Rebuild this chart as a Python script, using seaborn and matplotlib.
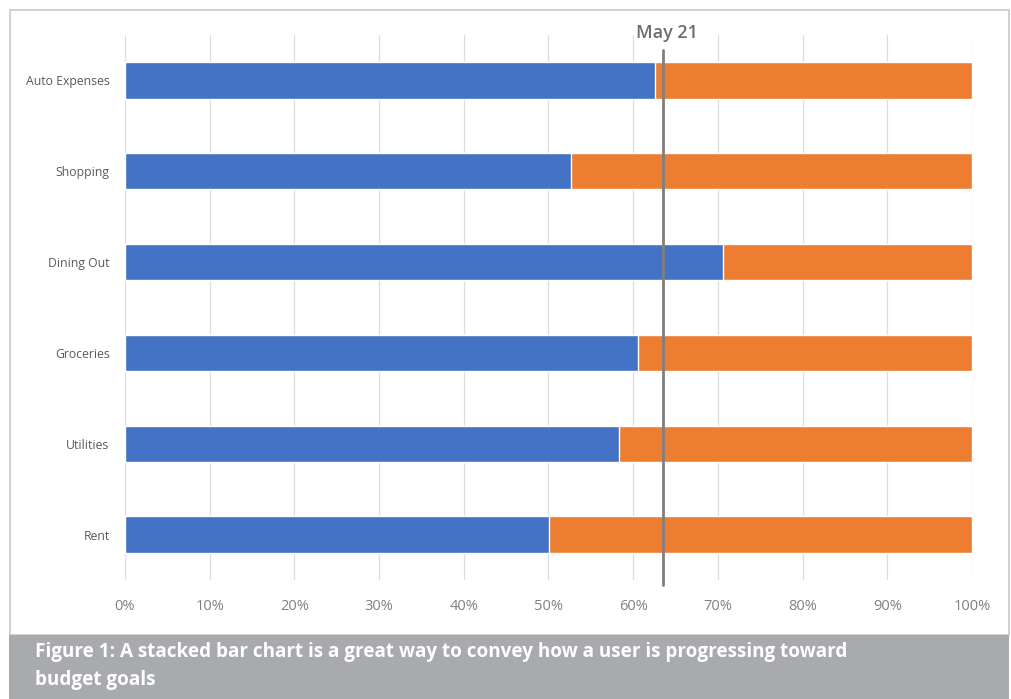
import matplotlib
matplotlib.use("Agg")
import matplotlib.pyplot as plt
import seaborn as sns
import pandas as pd
from matplotlib.patches import Rectangle

categories = ["Auto Expenses", "Shopping", "Dining Out", "Groceries", "Utilities", "Rent"]
spent = [62.6, 52.7, 70.6, 60.6, 58.3, 50.1]
remaining = [100 - s for s in spent]
marker_value = 63.5
marker_label = "May 21"
x_ticks = list(range(0, 101, 10))
x_tick_labels = [f"{t}%" for t in x_ticks]
caption = ("Figure 1: A stacked bar chart is a great way to convey how a user is progressing toward\n"
           "budget goals")

sns.set_theme(style="white")
plt.rcParams['font.family'] = ['Open Sans', 'DejaVu Sans']

df = pd.DataFrame({"category": categories, "spent": spent, "remaining": remaining})
df["total"] = df["spent"] + df["remaining"]

W, H = 1012, 699
fig = plt.figure(figsize=(W / 100, H / 100), dpi=100)
# frame
fig.patches.append(Rectangle((10 / W, 1 - 635 / H), 999 / W, 625 / H, transform=fig.transFigure,
                             facecolor="white", edgecolor="#c8c8c8", linewidth=1.2, zorder=-5))
# caption band
fig.patches.append(Rectangle((9 / W, 0), 1000 / W, 1 - 635 / H, transform=fig.transFigure,
                             facecolor="#a8aaad", edgecolor="none", zorder=-4))

ax = fig.add_axes([125 / W, 1 - 580 / H, 847 / W, 545 / H])
ax.set_facecolor("none")
ax.set_zorder(2)

sns.barplot(data=df, y="category", x="total", orient="h", color="#ed7d31", width=0.4,
            saturation=1, ax=ax, zorder=2)
sns.barplot(data=df, y="category", x="spent", orient="h", color="#4472c4", width=0.4,
            saturation=1, ax=ax, zorder=3)

ax.set_xlim(0, 100)
ax.set_ylim(5.5, -0.5)
ax.set_xticks(x_ticks)
ax.set_xticklabels(x_tick_labels, fontsize=10.5, color="#808080")
ax.tick_params(axis="x", length=0, pad=14)
ax.tick_params(axis="y", length=0, pad=11, labelsize=8.8, labelcolor="#5a5a5a")
ax.set_xlabel("")
ax.set_ylabel("")
for s in ax.spines.values():
    s.set_visible(False)
ax.grid(axis="x", color="#dedede", linewidth=0.9, zorder=0)
ax.set_axisbelow(True)

ax.plot([marker_value, marker_value], [-0.33, 5.55], color="#7f7f7f", linewidth=2,
        zorder=5, clip_on=False)
ax.text(64.0, -0.52, marker_label, ha="center", va="center", fontsize=13,
        color="#6e6e6e", fontweight="semibold")

fig.text(35 / W, 1 - 666 / H, caption, ha="left", va="center", fontsize=13.6, color="white",
         fontweight="bold", linespacing=1.6)

fig.savefig("out.png", dpi=100)
